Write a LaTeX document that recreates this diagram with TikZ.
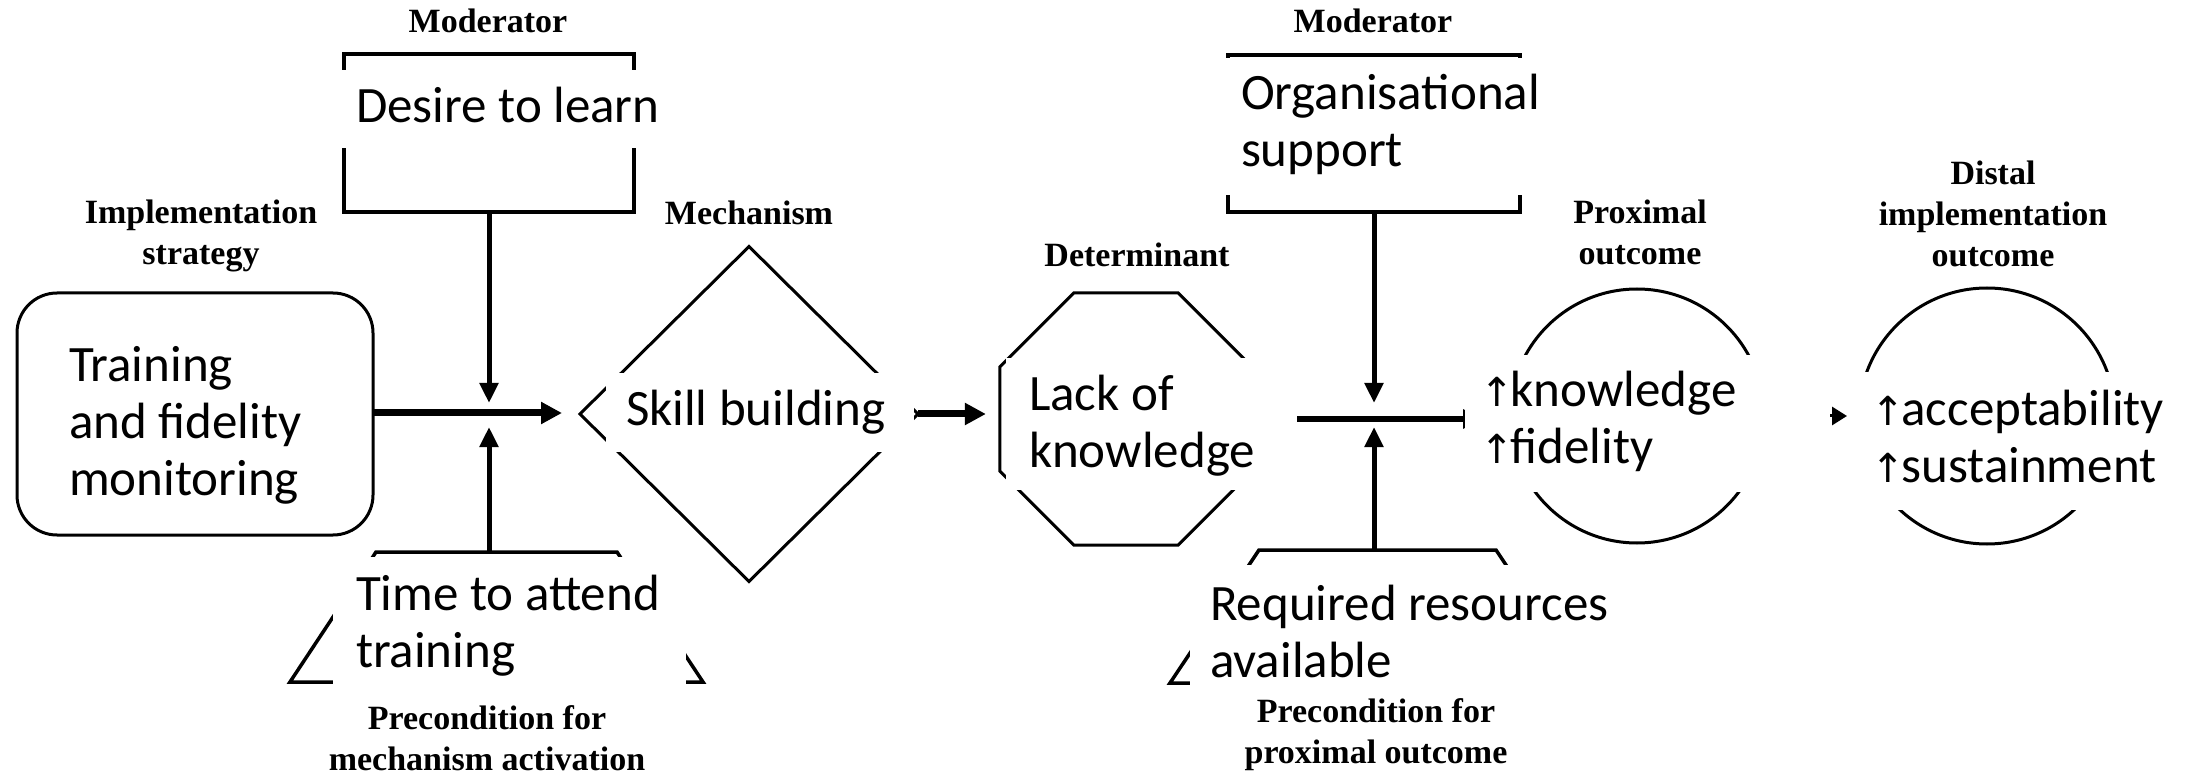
\documentclass[tikz,border=0pt]{standalone}
\usepackage{fontspec}
\setmainfont{Carlito}
\newfontfamily\labelfont{Liberation Serif}
\newfontfamily\arrowfont{DejaVu Sans}
\usetikzlibrary{shapes.geometric,arrows.meta}

% small upward arrow set before the outcome words
\newcommand\uparr{{\arrowfont\fontsize{40}{40}\selectfont ↑}\kern-3pt}

\begin{document}
\begin{tikzpicture}[x=1pt,y=-1pt,
  every node/.style={inner sep=0pt,outer sep=0pt},
  shapeline/.style={draw=black,line width=3pt},
  bracketbox/.style={draw=black,line width=3.5pt,rectangle},
  precline/.style={draw=black,line width=3.5pt,line join=miter},
  lab/.style={font=\labelfont\bfseries\fontsize{34}{41}\selectfont,align=center,anchor=base},
  txt/.style={font=\fontsize{51}{57}\selectfont,align=left,anchor=base west},
  mainarrow/.style={line width=7pt,-{Triangle[length=21pt,width=21pt]}},
  modarrow/.style={line width=5pt,-{Triangle[length=20pt,width=18pt]}},
  cover/.style={fill=white},
]
\useasboundingbox (0,0) rectangle (2193,775);

% ---- outlines of the elements ----
\node[bracketbox,minimum width=290pt,minimum height=158pt] (modA) at (489,133) {};
\node[shapeline,rectangle,rounded corners=40pt,minimum width=356pt,minimum height=242pt] (strat) at (195,414) {};
\node[shapeline,diamond,minimum width=338pt,minimum height=335pt] (mech) at (749,414) {};
\node[bracketbox,minimum width=292pt,minimum height=157pt] (modB) at (1374,133.5) {};
\node[shapeline,regular polygon,regular polygon sides=8,minimum size=273pt] (det) at (1126,419) {};
\node[shapeline,circle,minimum size=254pt] (prox) at (1637,416) {};
\node[shapeline,circle,minimum size=256pt] (dist) at (1987,416) {};

% precondition trapezia, with the midpoint of their top edge named
\draw[precline] (290,682) -- (376,552) -- (617,552) -- (703,682) -- cycle;
\coordinate (preA) at (496.5,552);
\draw[precline] (1170,683) -- (1259,550) -- (1496,550) -- (1585,683) -- cycle;
\coordinate (preB) at (1377.5,550);

% ---- junctions where moderators and preconditions act ----
\coordinate (jA) at (489,413);
\coordinate (jB) at (1374,419);

% ---- connectors ----
\draw[mainarrow,shorten >=18pt] (strat.east |- jA) -- (jA -| mech.west);
\draw[modarrow,shorten >=10pt] (modA.south) -- (jA);
\draw[modarrow,shorten >=14pt] (preA -| jA) -- (jA);
\draw[mainarrow,shorten >=14pt] (mech.east) -- (mech.east -| det.west);
\draw[line width=6pt,-{Triangle[length=22pt,width=18pt]},shorten <=45pt,shorten >=25pt]
  (det.east) -- (det.east -| prox.west);
\draw[modarrow,shorten >=16pt] (modB.south) -- (jB);
\draw[modarrow,shorten >=8pt] (preB -| jB) -- (jB);
\draw[line width=3pt,-{Triangle[length=15pt,width=18pt]},shorten >=12pt] (prox.east) -- (dist.west);

% ---- white text panels ----
\fill[cover] (330,70) rectangle (668,148);
\fill[cover] (606,373) rectangle (914,452);
\fill[cover] (1006,358) rectangle (1262,490);
\fill[cover] (1224,58) rectangle (1552,195);
\fill[cover] (333,557) rectangle (686,690);
\fill[cover] (1190,565) rectangle (1620,692);
\fill[cover] (1465,355) rectangle (1830,492);
\fill[cover] (1850,372) rectangle (2190,510);

% ---- texts (a multi-line node sits on the baseline of its last line) ----
\node[txt] (tDesire) at (356,123) {Desire to learn};
\node[txt] (tTrain) at (69,495) {Training\\and fidelity\\monitoring};
\node[txt] (tSkill) at (626,425) {Skill building};
\node[txt] (tLack) at (1029,467) {Lack of\\knowledge};
\node[txt] (tOrg) at (1241,167) {Organisational\\support};
\node[txt] (tTime) at (356,667) {Time to attend\\training};
\node[txt] (tRes) at (1210,677) {Required resources\\available};
\node[txt] (tProx) at (1480,463) {\uparr knowledge\\\uparr fidelity};
\node[txt] (tDist) at (1871,482) {\uparr acceptability\\\uparr sustainment};

% ---- category labels ----
\node[lab] (lModA) at (488,33) {Moderator};
\node[lab] (lStrat) at (201,265) {Implementation\\strategy};
\node[lab] (lMech) at (749,225) {Mechanism};
\node[lab] (lModB) at (1373,33) {Moderator};
\node[lab] (lDet) at (1137,267) {Determinant};
\node[lab] (lProx) at (1640,265) {Proximal\\outcome};
\node[lab] (lDist) at (1993,267) {Distal\\implementation\\outcome};
\node[lab] (lPreA) at (487,770) {Precondition for\\mechanism activation};
\node[lab] (lPreB) at (1376,763) {Precondition for\\proximal outcome};
\end{tikzpicture}
\end{document}
